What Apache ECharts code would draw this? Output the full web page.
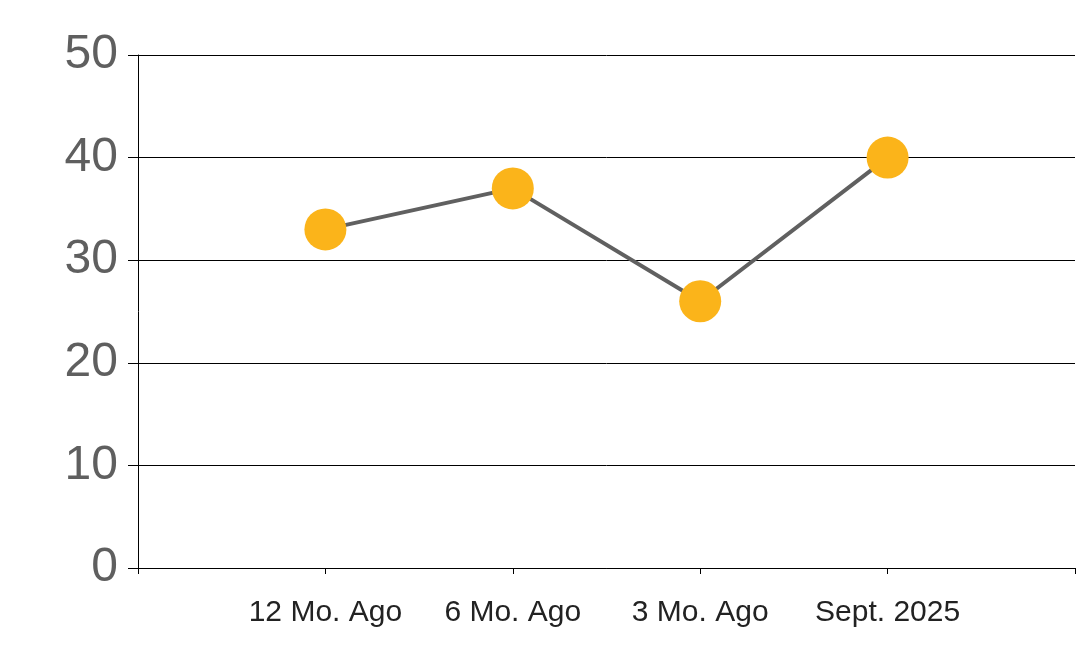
<!DOCTYPE html>
<html>
<head>
<meta charset="utf-8">
<script src="https://cdn.jsdelivr.net/npm/echarts@6/dist/echarts.min.js"></script>
<style>html,body{margin:0;padding:0;background:#fff;}#c{width:1078px;height:663px;}</style>
</head>
<body>
<div id="c"></div>
<script>
var categories = ['', '12 Mo. Ago', '6 Mo. Ago', '3 Mo. Ago', 'Sept. 2025', ''];
var values = [null, 33, 37, 26, 40, null];
var yMin = 0, yMax = 50, yInterval = 10;

var chart = echarts.init(document.getElementById('c'), null, {renderer: 'canvas'});
chart.setOption({
  animation: false,
  backgroundColor: '#ffffff',
  grid: {left: 138, right: 3, top: 55, bottom: 95, containLabel: false},
  xAxis: {
    type: 'category',
    data: categories,
    boundaryGap: false,
    axisLine: {show: true, lineStyle: {color: '#000', width: 1}},
    axisTick: {show: true, length: 6, inside: false, lineStyle: {color: '#000', width: 1}, alignWithLabel: true},
    axisLabel: {show: true, interval: 0, margin: 30, color: '#222222', fontSize: 30, fontFamily: 'Liberation Sans, Arial, sans-serif'},
    splitLine: {show: false}
  },
  yAxis: {
    type: 'value',
    min: yMin, max: yMax, interval: yInterval,
    axisLine: {show: true, lineStyle: {color: '#000', width: 1}},
    axisTick: {show: true, length: 10, lineStyle: {color: '#000', width: 1}},
    axisLabel: {margin: 20, color: '#5f5f5f', fontSize: 48, fontFamily: 'Liberation Sans, Arial, sans-serif'},
    splitLine: {show: true, lineStyle: {color: '#000', width: 1}}
  },
  series: [{
    type: 'line',
    data: values,
    connectNulls: false,
    symbol: 'circle',
    symbolSize: 42,
    showAllSymbol: true,
    lineStyle: {color: '#606060', width: 4},
    itemStyle: {color: '#FBB41A', borderWidth: 0},
    z: 3
  }]
});
</script>
</body>
</html>
